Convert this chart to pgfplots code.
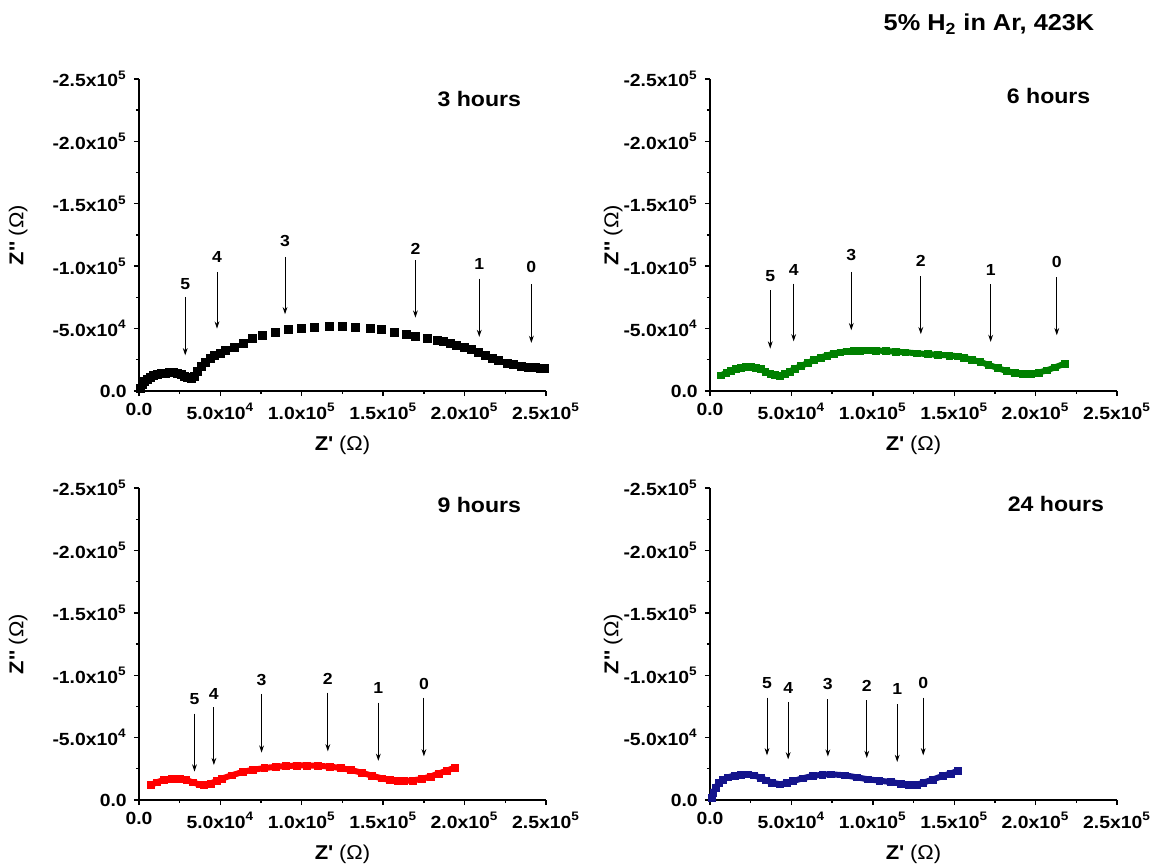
\documentclass[border=0pt]{standalone}
\usepackage{fontspec}
\setmainfont{Liberation Sans}[FakeStretch=1.1]
\usepackage{pgfplots}
\usepackage{pgfplotstable}
\pgfplotsset{compat=1.18}
\usetikzlibrary{arrows.meta}

\definecolor{ogreen}{RGB}{0,128,0}
\definecolor{ored}{RGB}{255,0,0}
\definecolor{onavy}{RGB}{20,20,140}

% Z' and -Z'' in units of 1e4 Ohm
\pgfplotstableread{
x y
0.1 0.2
0.2 0.5
0.35 0.75
0.5 0.95
0.7 1.1
0.9 1.22
1.1 1.32
1.35 1.4
1.6 1.45
1.85 1.47
2.1 1.46
2.35 1.4
2.6 1.3
2.8 1.18
3.0 1.05
3.2 1.0
3.4 1.15
3.6 1.6
3.85 2.0
4.1 2.33
4.4 2.6
4.66 2.86
5.0 3.05
5.3 3.26
5.86 3.53
6.4 3.85
6.96 4.2
7.6 4.47
8.4 4.73
9.15 4.92
10.0 5.05
10.8 5.13
11.7 5.15
12.5 5.15
13.3 5.08
14.2 5.0
14.9 4.92
15.7 4.73
16.4 4.55
17.0 4.41
17.7 4.25
18.3 4.06
18.7 3.95
19.1 3.8
19.5 3.65
20.0 3.48
20.4 3.3
20.85 3.1
21.3 2.88
21.7 2.65
22.1 2.45
22.6 2.25
23.0 2.1
23.5 1.98
23.9 1.92
24.35 1.87
24.65 1.85
24.9 1.85
}\dataA

\pgfplotstableread{
x y
0.68 1.26
1.0 1.45
1.3 1.62
1.6 1.75
1.9 1.85
2.2 1.92
2.5 1.93
2.8 1.88
3.1 1.75
3.4 1.55
3.7 1.38
4.0 1.27
4.3 1.24
4.6 1.35
4.9 1.55
5.2 1.78
5.6 2.0
6.0 2.25
6.4 2.48
6.8 2.68
7.2 2.85
7.6 3.0
8.0 3.1
8.4 3.18
8.8 3.22
9.2 3.25
9.7 3.26
10.2 3.25
10.8 3.2
11.4 3.15
12.0 3.1
12.7 3.02
13.4 2.95
14.0 2.9
14.7 2.85
15.2 2.78
15.6 2.67
16.1 2.5
16.6 2.33
17.1 2.1
17.7 1.83
18.2 1.6
18.7 1.45
19.2 1.38
19.7 1.38
20.2 1.48
20.7 1.66
21.2 1.9
21.8 2.2
}\dataB

\pgfplotstableread{
x y
0.72 1.2
1.1 1.42
1.5 1.6
2.0 1.72
2.5 1.72
2.9 1.6
3.3 1.42
3.7 1.25
4.0 1.2
4.4 1.32
4.8 1.55
5.1 1.72
5.7 1.98
6.4 2.26
7.0 2.42
7.7 2.56
8.4 2.66
9.0 2.72
9.7 2.76
10.3 2.77
11.0 2.74
11.7 2.68
12.4 2.56
13.0 2.41
13.7 2.18
14.3 1.95
14.9 1.74
15.4 1.6
15.9 1.53
16.3 1.52
16.8 1.57
17.35 1.68
17.9 1.88
18.4 2.12
18.9 2.35
19.4 2.6
}\dataC

\pgfplotstableread{
x y
0.11 0.19
0.2 0.6
0.34 0.99
0.55 1.35
0.8 1.62
1.1 1.82
1.5 1.96
1.9 2.03
2.3 2.06
2.7 1.98
3.1 1.79
3.45 1.58
3.8 1.39
4.3 1.26
4.7 1.35
5.1 1.52
5.7 1.74
6.3 1.93
6.9 2.03
7.4 2.06
8.3 1.98
9.0 1.82
9.7 1.66
10.4 1.55
11.1 1.44
11.7 1.32
12.2 1.2
12.7 1.22
13.1 1.39
13.7 1.65
14.3 1.93
14.8 2.13
15.2 2.33
}\dataD

\newcommand{\arr}[5]{%
  \draw[-{Stealth[length=3.6pt,width=2.4pt]}, line width=0.45pt] (axis cs:#1,#2) -- (axis cs:#1,#3);
  \node[font=\fontsize{8}{9}\selectfont\bfseries] at (axis cs:#1,#4) {#5};}

\tikzset{hours/.style={font=\fontsize{10.5}{12}\selectfont\bfseries}}

\pgfplotsset{
  panel/.style={
    width=203.5pt, height=156pt, scale only axis,
    xmin=0, xmax=25, ymin=0, ymax=25,
    axis lines*=left, tick align=outside,
    axis line style={line width=0.9pt},
    every tick/.style={black, line width=0.7pt},
    major tick length=2.6pt, minor tick length=1.6pt,
    minor tick num=1,
    xtick={0,5,10,15,20,25}, ytick={0,5,10,15,20,25},
    xticklabels={0.0, 5.0x10\textsuperscript{4}, 1.0x10\textsuperscript{5}, 1.5x10\textsuperscript{5}, 2.0x10\textsuperscript{5}, 2.5x10\textsuperscript{5}},
    yticklabels={0.0, -5.0x10\textsuperscript{4}, -1.0x10\textsuperscript{5}, -1.5x10\textsuperscript{5}, -2.0x10\textsuperscript{5}, -2.5x10\textsuperscript{5}},
    ticklabel style={font=\fontsize{8.8}{9.5}\selectfont\bfseries},
    xlabel={\textbf{Z\textquotesingle} (Ω)},
    ylabel={\textbf{Z\textquotesingle\textquotesingle} (Ω)},
    label style={font=\fontsize{8.4}{9.5}\selectfont},
    every axis x label/.style={at={(rel axis cs:0.5,0)}, yshift=-27pt, anchor=center},
    clip=false,
  },
  leftcol/.style={every axis y label/.style={at={(rel axis cs:-0.297,0.5)}, rotate=90, anchor=center}},
  rightcol/.style={every axis y label/.style={at={(rel axis cs:-0.238,0.5)}, rotate=90, anchor=center}},
  thick curve/.style={#1, line width=3pt, mark=square*, mark size=1.7pt, mark options={line width=0.3pt}},
}

\begin{document}
\begin{tikzpicture}
\path[use as bounding box] (0pt,0pt) rectangle (576.5pt,-432.5pt);

\node[font=\fontsize{11.5}{13}\selectfont\bfseries] at (494.5pt,-12pt) {5\% H\textsubscript{2} in Ar, 423K};

% 3 hours
\begin{axis}[panel, leftcol, at={(69.5pt,-195.5pt)}, anchor=south west]
\addplot[only marks, mark=square*, mark size=2pt, black] table {\dataA};
\node[hours] at (axis cs:20.9,23.4) {3 hours};
\arr{2.84}{7.54}{2.86}{8.56}{5}
\arr{4.79}{9.55}{5.0}{10.75}{4}
\arr{8.97}{10.75}{6.15}{12.0}{3}
\arr{16.98}{10.48}{5.88}{11.4}{2}
\arr{20.9}{9.0}{4.33}{10.16}{1}
\arr{24.1}{8.56}{3.85}{9.9}{0}
\end{axis}

% 6 hours
\begin{axis}[panel, rightcol, at={(355pt,-195.5pt)}, anchor=south west]
\addplot[thick curve=ogreen] table {\dataB};
\node[hours] at (axis cs:20.8,23.6) {6 hours};
\arr{3.7}{8.07}{3.4}{9.2}{5}
\arr{5.14}{8.6}{3.98}{9.73}{4}
\arr{8.68}{9.55}{4.87}{10.9}{3}
\arr{12.95}{9.2}{4.55}{10.4}{2}
\arr{17.24}{8.56}{3.93}{9.73}{1}
\arr{21.3}{9.1}{4.47}{10.35}{0}
\end{axis}

% 9 hours
\begin{axis}[panel, leftcol, at={(69.5pt,-400pt)}, anchor=south west]
\addplot[thick curve=ored] table {\dataC};
\node[hours] at (axis cs:20.9,23.6) {9 hours};
\arr{3.41}{6.92}{2.28}{8.1}{5}
\arr{4.6}{7.43}{2.8}{8.5}{4}
\arr{7.53}{8.5}{3.8}{9.65}{3}
\arr{11.6}{8.6}{3.9}{9.7}{2}
\arr{14.7}{7.8}{3.14}{8.95}{1}
\arr{17.5}{8.2}{3.5}{9.33}{0}
\end{axis}

% 24 hours
\begin{axis}[panel, rightcol, at={(355pt,-400pt)}, anchor=south west]
\addplot[thick curve=onavy] table {\dataD};
\node[hours] at (axis cs:21.25,23.7) {24 hours};
\arr{3.5}{8.2}{3.58}{9.4}{5}
\arr{4.8}{7.86}{3.26}{9.0}{4}
\arr{7.24}{8.07}{3.48}{9.28}{3}
\arr{9.63}{8.0}{3.37}{9.14}{2}
\arr{11.5}{7.67}{3.05}{8.93}{1}
\arr{13.1}{8.2}{3.58}{9.4}{0}
\end{axis}
\end{tikzpicture}
\end{document}
